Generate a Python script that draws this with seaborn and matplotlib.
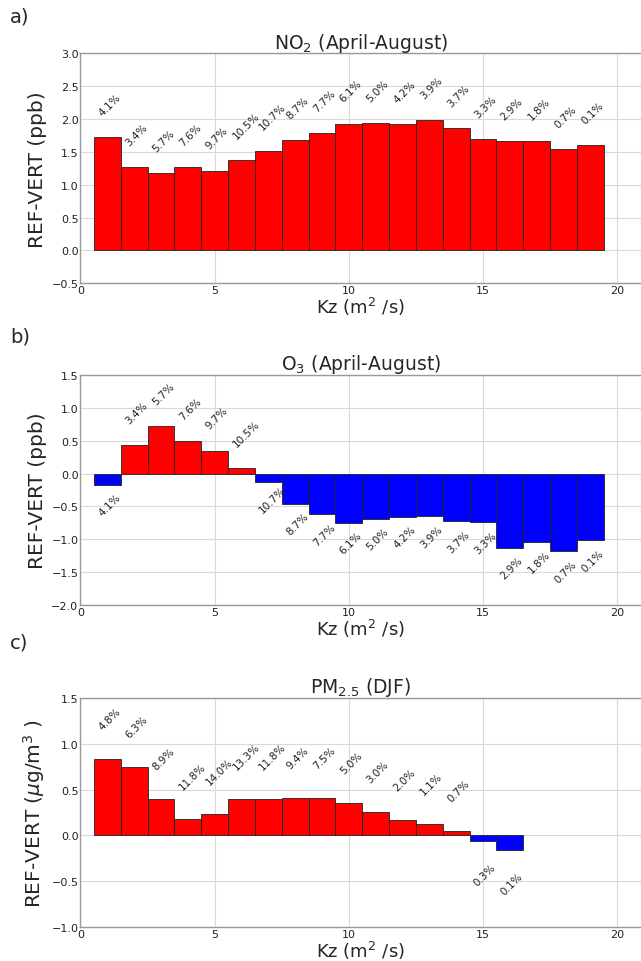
import matplotlib
matplotlib.use("Agg")
import matplotlib.pyplot as plt
import seaborn as sns
import pandas as pd

# ---------------- data ----------------
kz_bins = [1, 2, 3, 4, 5, 6, 7, 8, 9, 10, 11, 12, 13, 14, 15, 16, 17, 18, 19]

no2_vals = [1.72, 1.27, 1.18, 1.27, 1.215, 1.38, 1.515, 1.68, 1.78, 1.93,
            1.94, 1.92, 1.98, 1.86, 1.69, 1.67, 1.66, 1.54, 1.60]
o3_vals = [-0.17, 0.43, 0.725, 0.49, 0.35, 0.086, -0.127, -0.46, -0.62, -0.745,
           -0.684, -0.66, -0.65, -0.725, -0.74, -1.125, -1.034, -1.18, -1.014]
summer_pct = ["4.1%", "3.4%", "5.7%", "7.6%", "9.7%", "10.5%", "10.7%", "8.7%",
              "7.7%", "6.1%", "5.0%", "4.2%", "3.9%", "3.7%", "3.3%", "2.9%",
              "1.8%", "0.7%", "0.1%"]

kz_bins_pm = [1, 2, 3, 4, 5, 6, 7, 8, 9, 10, 11, 12, 13, 14, 15, 16]
pm_vals = [0.83, 0.745, 0.40, 0.18, 0.23, 0.40, 0.394, 0.41, 0.41, 0.35,
           0.26, 0.164, 0.124, 0.044, -0.066, -0.164]
pm_pct = ["4.8%", "6.3%", "8.9%", "11.8%", "14.0%", "13.3%", "11.8%", "9.4%",
          "7.5%", "5.0%", "3.0%", "2.0%", "1.1%", "0.7%", "0.3%", "0.1%"]

panels = [
    dict(tag="a)", title=r"NO$_2$ (April-August)", ylabel="REF-VERT (ppb)",
         x=kz_bins, y=no2_vals, pct=summer_pct, ylim=(-0.5, 3.0),
         yticks=[-0.5, 0.0, 0.5, 1.0, 1.5, 2.0, 2.5, 3.0]),
    dict(tag="b)", title=r"O$_3$ (April-August)", ylabel="REF-VERT (ppb)",
         x=kz_bins, y=o3_vals, pct=summer_pct, ylim=(-2.0, 1.5),
         yticks=[-2.0, -1.5, -1.0, -0.5, 0.0, 0.5, 1.0, 1.5]),
    dict(tag="c)", title=r"PM$_{2.5}$ (DJF)", ylabel=r"REF-VERT ($\mu$g/m$^3$ )",
         x=kz_bins_pm, y=pm_vals, pct=pm_pct, ylim=(-1.0, 1.5),
         yticks=[-1.0, -0.5, 0.0, 0.5, 1.0, 1.5]),
]

# ---------------- style ----------------
sns.set_theme(style="white")
plt.rcParams["font.family"] = ["DejaVu Sans"]
plt.rcParams["mathtext.fontset"] = "dejavusans"

W, H = 641, 962
fig = plt.figure(figsize=(W / 100, H / 100), dpi=100)

# axes boxes in pixels: (top, bottom)
boxes = [(54.3, 284.3), (376.0, 606.0), (699.0, 928.0)]
tag_y = [17, 337, 643]
left_px = 80.5
right_px = 641.0
px_per_unit = 26.83
xmax = (right_px - left_px) / px_per_unit

for p, (top, bot), ty in zip(panels, boxes, tag_y):
    ax = fig.add_axes([left_px / W, 1 - bot / H,
                       (right_px - left_px) / W, (bot - top) / H])
    df = pd.DataFrame({"kz": p["x"], "val": p["y"]})
    df["sign"] = ["pos" if v >= 0 else "neg" for v in df["val"]]
    sns.barplot(data=df, x="kz", y="val", hue="sign",
                palette={"pos": "#ff0000", "neg": "#0000ff"}, saturation=1,
                native_scale=True, dodge=False, width=1.0, errorbar=None,
                edgecolor="#222222", linewidth=0.6, legend=False, ax=ax,
                zorder=3)
    for xv, yv, lab in zip(p["x"], p["y"], p["pct"]):
        if yv >= 0:
            ax.text(xv - 0.4, yv + 0.3, lab, rotation=45, ha="left",
                    va="bottom", fontsize=7.5, color="#222222", zorder=4)
        else:
            ax.text(xv - 0.4, yv - 0.5, lab, rotation=45, ha="left",
                    va="bottom", fontsize=7.5, color="#222222", zorder=4)

    ax.set_xlim(0, xmax)
    ax.set_ylim(*p["ylim"])
    ax.set_xticks([0, 5, 10, 15, 20])
    ax.set_xticklabels(["0", "5", "10", "15", "20"])
    ax.set_yticks(p["yticks"])
    ax.set_yticklabels([f"{t:.1f}".replace("-", "\u2212") for t in p["yticks"]])
    ax.grid(True, color="#d9d9d9", linewidth=0.8, zorder=0)
    ax.set_axisbelow(True)
    for s in ax.spines.values():
        s.set_color("#999999")
        s.set_linewidth(1.0)
    ax.spines["right"].set_visible(False)
    ax.tick_params(axis="both", length=0, labelsize=8, pad=1.5,
                   labelcolor="#222222")
    ax.set_xlabel(r"Kz (m$^2$ /s)", fontsize=13, labelpad=0)
    ax.set_ylabel(p["ylabel"], fontsize=14.5, labelpad=3)
    ax.set_title(p["title"], fontsize=13.5, pad=4)
    fig.text(10 / W, 1 - ty / H, p["tag"], fontsize=14, ha="left", va="center")

fig.savefig("out.png", dpi=100)
